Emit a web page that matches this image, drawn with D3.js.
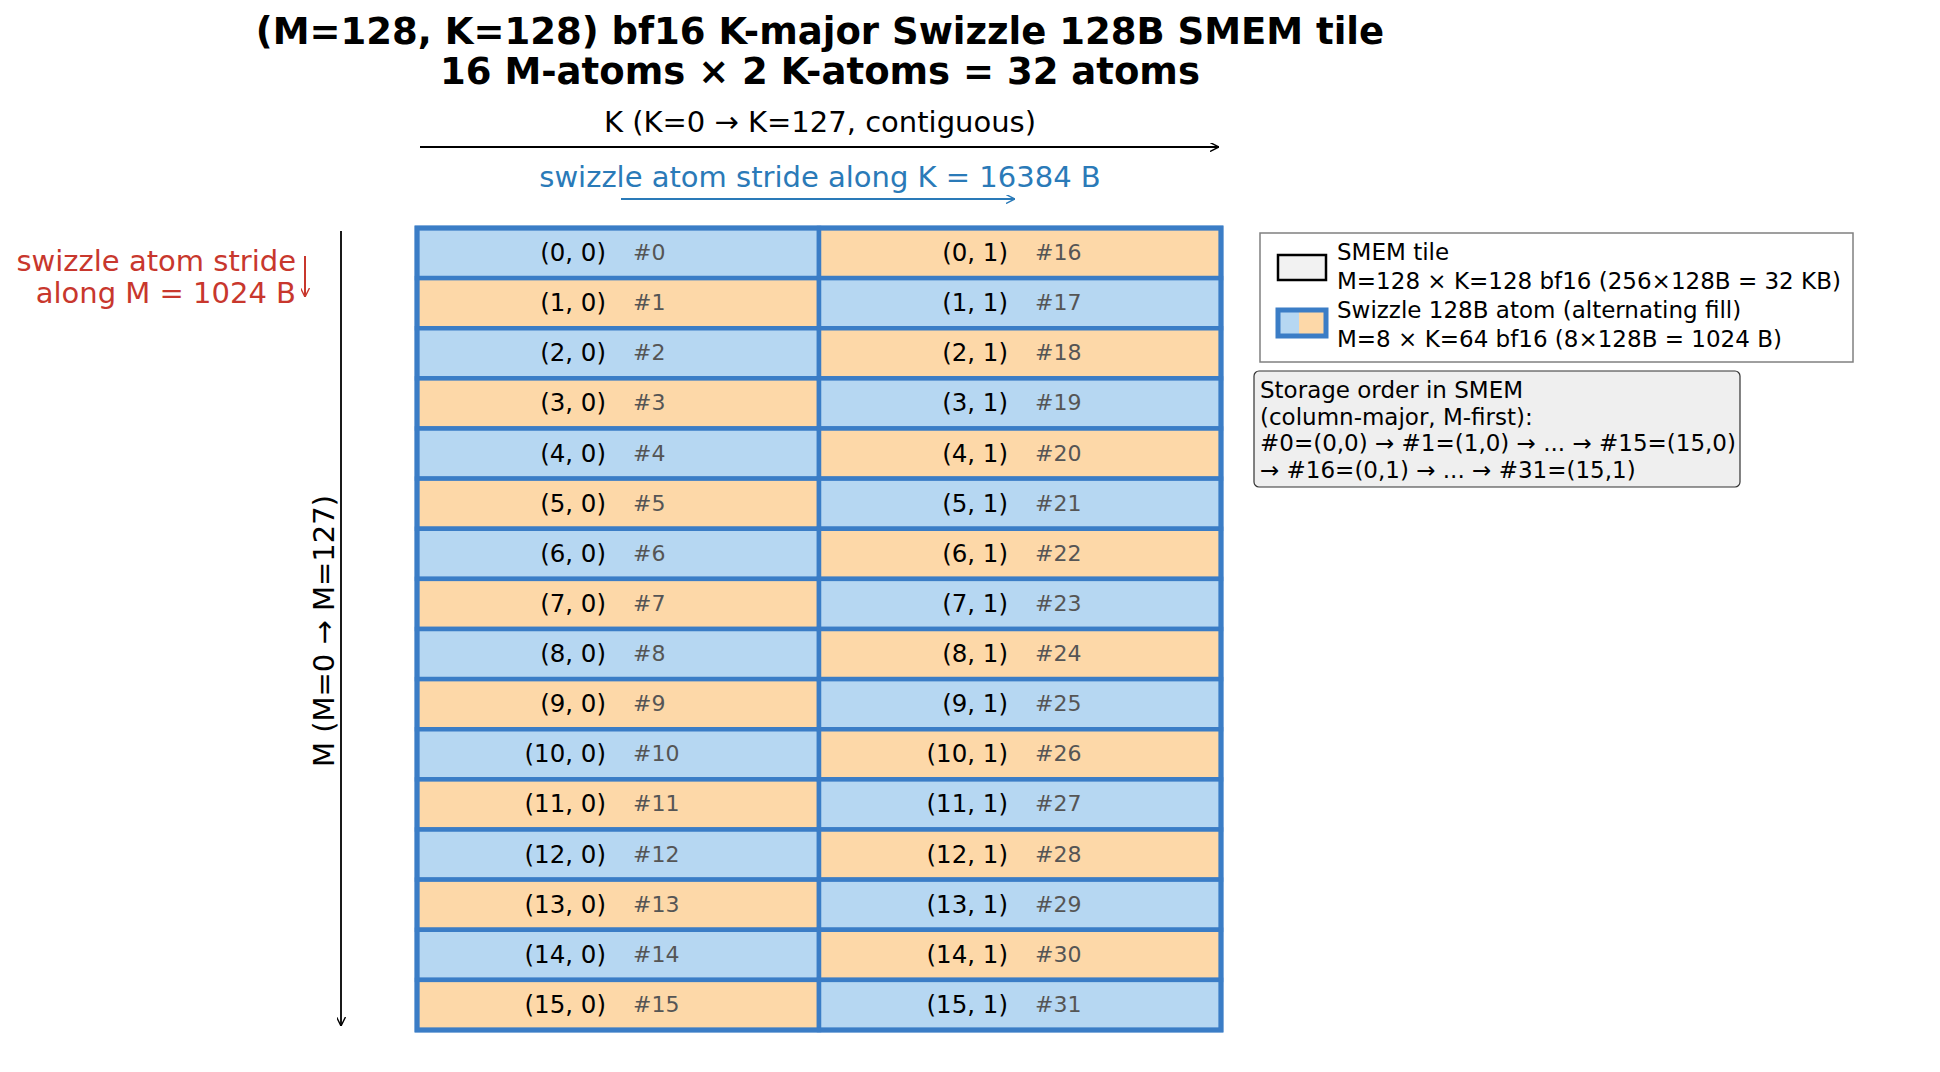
<!DOCTYPE html><html><head><meta charset="utf-8">
<script src="https://cdn.jsdelivr.net/npm/d3@7"></script>
<style>body{margin:0;background:#fff}text{font-family:"DejaVu Sans",sans-serif}</style></head><body>
<script>
const mAtoms = d3.range(16);
const kAtoms = [0, 1];
const titleLines = ["(M=128, K=128) bf16 K-major Swizzle 128B SMEM tile", "16 M-atoms × 2 K-atoms = 32 atoms"];
const legendLines = [["SMEM tile", "M=128 × K=128 bf16 (256×128B = 32 KB)"], ["Swizzle 128B atom (alternating fill)", "M=8 × K=64 bf16 (8×128B = 1024 B)"]];
const orderLines = ["Storage order in SMEM", "(column-major, M-first):", "#0=(0,0) → #1=(1,0) → ... → #15=(15,0)", "→ #16=(0,1) → ... → #31=(15,1)"];

const W = 1940, H = 1072;
const svg = d3.select("body").append("svg").attr("width", W).attr("height", H);
const defs = svg.append("defs");
function marker(id, c){defs.append("marker").attr("id",id).attr("viewBox","0 0 10 10").attr("refX",10).attr("refY",5)
 .attr("markerWidth",9).attr("markerHeight",9).attr("orient","auto-start-reverse").attr("markerUnits","userSpaceOnUse")
 .append("path").attr("d","M0,0 L10,5 L0,10").attr("fill","none").attr("stroke",c).attr("stroke-width",1.6);}
marker("ak","#000"); marker("ab","#2a7ab8"); marker("ar","#c8372d");
const BLUE="#b6d7f2", ORANGE="#fdd8a8", EDGE="#3b7dc6";

const x = d3.scaleBand().domain(kAtoms).range([417, 1221]);
const y = d3.scaleBand().domain(mAtoms).range([228, 1030]);

svg.selectAll(".t").data(titleLines).join("text").attr("x",820).attr("y",(d,i)=>44+i*40)
 .attr("text-anchor","middle").attr("font-size",37).attr("font-weight","bold").text(d=>d);

svg.append("text").attr("x",820).attr("y",132).attr("text-anchor","middle").attr("font-size",29).text("K  (K=0 → K=127, contiguous)");
svg.append("line").attr("x1",420).attr("x2",1219).attr("y1",147).attr("y2",147).attr("stroke","#000").attr("stroke-width",1.8).attr("marker-end","url(#ak)");
svg.append("text").attr("x",820).attr("y",187).attr("text-anchor","middle").attr("font-size",29).attr("fill","#2a7ab8").text("swizzle atom stride along K = 16384 B");
svg.append("line").attr("x1",621).attr("x2",1015).attr("y1",199).attr("y2",199).attr("stroke","#2a7ab8").attr("stroke-width",1.8).attr("marker-end","url(#ab)");

svg.append("text").attr("x",296).attr("y",271).attr("text-anchor","end").attr("font-size",29).attr("fill","#c8372d").text("swizzle atom stride");
svg.append("text").attr("x",296).attr("y",303).attr("text-anchor","end").attr("font-size",29).attr("fill","#c8372d").text("along M = 1024 B");
svg.append("line").attr("x1",305).attr("x2",305).attr("y1",256).attr("y2",297).attr("stroke","#c8372d").attr("stroke-width",2).attr("marker-end","url(#ar)");

svg.append("line").attr("x1",341).attr("x2",341).attr("y1",231).attr("y2",1026).attr("stroke","#000").attr("stroke-width",1.8).attr("marker-end","url(#ak)");
svg.append("text").attr("transform","translate(334,631) rotate(-90)").attr("text-anchor","middle").attr("font-size",29).text("M  (M=0 → M=127)");

const cells = [];
kAtoms.forEach(k=>mAtoms.forEach(m=>cells.push({m,k,idx:k*16+m})));
const g = svg.selectAll(".c").data(cells).join("g");
g.append("rect").attr("x",d=>x(d.k)).attr("y",d=>y(d.m)).attr("width",x.bandwidth()).attr("height",y.bandwidth())
 .attr("fill",d=>(d.m+d.k)%2?ORANGE:BLUE).attr("stroke",EDGE).attr("stroke-width",4.5);
g.append("text").attr("x",d=>x(d.k)+x.bandwidth()/2-12).attr("y",d=>y(d.m)+y.bandwidth()/2+8).attr("text-anchor","end").attr("font-size",24.5).text(d=>`(${d.m}, ${d.k})`);
g.append("text").attr("x",d=>x(d.k)+x.bandwidth()/2+15).attr("y",d=>y(d.m)+y.bandwidth()/2+7).attr("font-size",22).attr("fill","#555").text(d=>"#"+d.idx);
svg.append("rect").attr("x",417).attr("y",228).attr("width",804).attr("height",802).attr("fill","none").attr("stroke",EDGE).attr("stroke-width",5);

// legend
svg.append("rect").attr("x",1260).attr("y",233).attr("width",593).attr("height",129).attr("fill","#fff").attr("stroke","#808080").attr("stroke-width",1.5);
svg.append("rect").attr("x",1278).attr("y",255).attr("width",48).attr("height",25).attr("fill","#f2f2f2").attr("stroke","#000").attr("stroke-width",2.5);
svg.append("rect").attr("x",1278).attr("y",310).attr("width",48).attr("height",26).attr("fill",BLUE).attr("stroke","none");
svg.append("rect").attr("x",1299).attr("y",310).attr("width",27).attr("height",26).attr("fill",ORANGE);
svg.append("rect").attr("x",1278).attr("y",310).attr("width",48).attr("height",26).attr("fill","none").attr("stroke",EDGE).attr("stroke-width",5);
legendLines.forEach((p,i)=>p.forEach((t,j)=>svg.append("text").attr("x",1337).attr("y",260+i*58+j*29).attr("font-size",23).text(t)));

svg.append("rect").attr("x",1254).attr("y",371).attr("width",486).attr("height",116).attr("rx",5).attr("fill","#efefef").attr("stroke","#333").attr("stroke-width",1.2);
orderLines.forEach((t,i)=>svg.append("text").attr("x",1260).attr("y",398+i*26.5).attr("font-size",23).text(t));
</script></body></html>
